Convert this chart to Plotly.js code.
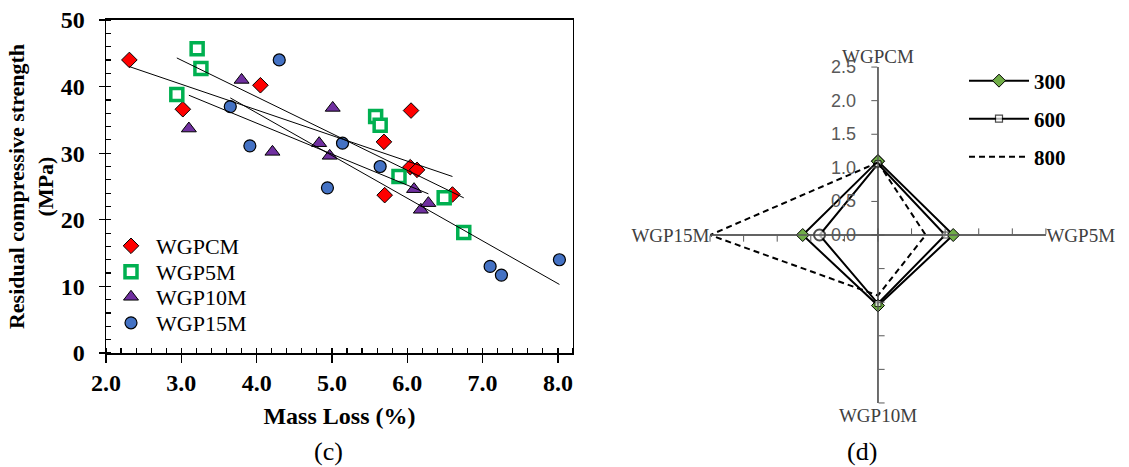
<!DOCTYPE html>
<html><head><meta charset="utf-8">
<script src="https://cdn.plot.ly/plotly-3.0.1.min.js"></script>
<style>html,body{margin:0;padding:0;background:#fff}#chart{width:1129px;height:467px}</style>
</head><body><div id="chart"></div>
<script>
// ---- (c) Residual compressive strength vs mass loss ----
const cmX  = [2.31, 3.02, 4.05, 5.69, 5.70, 6.05, 6.04, 6.13, 6.60];
const cmY  = [44.0, 36.6, 40.2, 31.7, 23.7, 36.4, 27.9, 27.5, 23.8];
const m5X  = [2.94, 3.21, 3.26, 5.58, 5.64, 5.89, 6.49, 6.75];
const m5Y  = [38.8, 45.7, 42.7, 35.5, 34.2, 26.5, 23.3, 18.1];
const m10X = [3.10, 3.80, 4.21, 4.83, 4.97, 5.01, 6.09, 6.18, 6.28];
const m10Y = [33.7, 41.0, 30.2, 31.5, 29.6, 36.8, 24.6, 21.5, 22.5];
const m15X = [3.65, 3.91, 4.30, 4.94, 5.14, 5.64, 7.10, 7.25, 8.02];
const m15Y = [37.0, 31.1, 44.0, 24.8, 31.5, 28.0, 13.0, 11.7, 14.0];
// linear trend lines (end points)
const cmTrendX  = [2.31, 6.60], cmTrendY  = [43.0, 26.5];
const m5TrendX  = [2.94, 6.75], m5TrendY  = [44.3, 23.3];
const m10TrendX = [3.10, 6.28], m10TrendY = [38.7, 23.9];
const m15TrendX = [3.65, 8.02], m15TrendY = [38.3, 10.3];

// ---- (d) radar ----
const radarCats = ['WGPCM', 'WGP5M', 'WGP10M', 'WGP15M'];
const r300 = [1.10, 1.12, 1.05, 1.12];
const r600 = [1.06, 1.00, 1.02, 0.87];
const r800 = [1.08, 0.71, 0.90, 2.50];
const radarNames = ['300', '600', '800'];

const serif = 'Liberation Serif, Times New Roman, serif';
const close = a => a.concat([a[0]]);

const scatterTraces = [
  {x: cmX, y: cmY, name: 'WGPCM', legend: 'legend', mode: 'markers', type: 'scatter',
   marker: {symbol: 'diamond', size: 12, color: '#FF0000', line: {color: '#000', width: 1}}},
  {x: m5X, y: m5Y, name: 'WGP5M', legend: 'legend3', mode: 'markers', type: 'scatter',
   marker: {symbol: 'square', size: 12, color: '#FFFFFF', line: {color: '#00B050', width: 3.5}}},
  {x: m10X, y: m10Y, name: 'WGP10M', legend: 'legend4', mode: 'markers', type: 'scatter',
   marker: {symbol: 'triangle-up', size: 13, color: '#7030A0', line: {color: '#000', width: 1}}},
  {x: m15X, y: m15Y, name: 'WGP15M', legend: 'legend5', mode: 'markers', type: 'scatter',
   marker: {symbol: 'circle', size: 12, color: '#4472C4', line: {color: '#000', width: 1.2}}}
];
const trendTraces = [[cmTrendX, cmTrendY], [m5TrendX, m5TrendY], [m10TrendX, m10TrendY], [m15TrendX, m15TrendY]]
  .map(([x, y]) => ({x, y, mode: 'lines', type: 'scatter', showlegend: false, hoverinfo: 'skip',
    line: {color: '#000', width: 1}}));

const radarTraces = [
  {type: 'scatterpolar', subplot: 'polar', name: radarNames[0], legend: 'legend2',
   r: close(r300), theta: close(radarCats), mode: 'lines+markers',
   line: {color: '#000', width: 2},
   marker: {symbol: 'diamond', size: 10, color: '#70AD47', line: {color: '#000', width: 1}}},
  {type: 'scatterpolar', subplot: 'polar', name: radarNames[1], legend: 'legend6',
   r: close(r600), theta: close(radarCats), mode: 'lines+markers',
   line: {color: '#000', width: 2},
   marker: {symbol: ['square', 'square', 'square', 'circle', 'square'], size: [6, 6, 6, 11, 6],
            color: '#FFFFFF', line: {color: '#000', width: [1, 1, 1, 2, 1]}}},
  {type: 'scatterpolar', subplot: 'polar', name: radarNames[2], legend: 'legend7',
   r: close(r800), theta: close(radarCats), mode: 'lines',
   line: {color: '#000', width: 2, dash: '6px,4px'}}
];
// empty traces to draw tick marks on the other spokes
const spokeTraces = ['polar2', 'polar3', 'polar4'].map(s => ({
  type: 'scatterpolar', subplot: s, r: [], theta: [], showlegend: false, hoverinfo: 'skip'}));

const polarDomain = {x: [0.6289, 0.9264], y: [0.1370, 0.8565]};
const baseRadial = {range: [0, 2.5], dtick: 0.5, showgrid: false, showline: true, linecolor: '#595959',
  linewidth: 1.3, ticks: 'outside', ticklen: 6, tickcolor: '#595959', side: 'counterclockwise'};
function extraPolar(angle) {
  return {domain: polarDomain, bgcolor: 'rgba(0,0,0,0)',
    radialaxis: Object.assign({}, baseRadial, {angle: angle, showticklabels: false}),
    angularaxis: {visible: false}};
}
function oneLegend(xPx, yPx, font) {
  return {x: xPx / 1129, y: 1 - yPx / 467, xanchor: 'left', yanchor: 'middle',
    bgcolor: 'rgba(0,0,0,0)', font: font, itemwidth: 40};
}
const legFont = {family: serif, size: 22, color: '#000'};
const radLegFont = {family: serif, size: 21, color: '#000', weight: 'bold'};
function radLegend(yPx) {
  return Object.assign(oneLegend(964, yPx, radLegFont), {itemwidth: 60});
}

const layout = {
  width: 1129, height: 467,
  margin: {l: 0, r: 0, t: 0, b: 0},
  paper_bgcolor: '#fff', plot_bgcolor: '#fff',
  font: {family: serif, color: '#000'},
  xaxis: {domain: [0.0939, 0.5075], range: [2.0, 8.2], dtick: 1, tick0: 2, tickformat: '.1f',
    showgrid: false, zeroline: false, showline: true, linecolor: '#000', linewidth: 1.5, mirror: true,
    ticks: 'outside', ticklen: 8, tickwidth: 1.3, tickcolor: '#000',
    minor: {dtick: 0.2, ticks: 'inside', ticklen: 5, tickwidth: 1.2, tickcolor: '#000'},
    tickfont: {family: serif, size: 24, color: '#000', weight: 'bold'},
    title: {text: '<b>Mass Loss (%)</b>', font: {family: serif, size: 24}, standoff: 12}},
  yaxis: {domain: [0.2441, 0.9572], range: [0, 50], dtick: 10, showgrid: false, zeroline: false,
    showline: true, linecolor: '#000', linewidth: 1.5, mirror: true,
    ticks: 'outside', ticklen: 6, tickwidth: 1.3, tickcolor: '#000', ticklabelstandoff: 9,
    minor: {dtick: 2, ticks: 'inside', ticklen: 5, tickwidth: 1.2, tickcolor: '#000'},
    tickfont: {family: serif, size: 24, color: '#000', weight: 'bold'},
    title: {text: '<b>Residual compressive strength<br>(MPa)</b>', font: {family: serif, size: 22}, standoff: 1}},
  legend:  oneLegend(106, 246, legFont),
  legend3: oneLegend(106, 272, legFont),
  legend4: oneLegend(106, 297, legFont),
  legend5: oneLegend(106, 323, legFont),
  legend2: radLegend(81),
  legend6: radLegend(119),
  legend7: radLegend(157),
  polar: {domain: polarDomain, bgcolor: 'rgba(0,0,0,0)',
    radialaxis: Object.assign({}, baseRadial, {angle: 90, tickformat: '.1f', tickangle: 90,
      ticksuffix: '\u2002',
      tickfont: {family: 'Liberation Sans, Arial, sans-serif', size: 18, color: '#595959'}}),
    angularaxis: {type: 'category', categoryarray: radarCats, rotation: 90, direction: 'clockwise',
      showline: false, ticks: '', showgrid: true, gridcolor: '#595959', gridwidth: 1.3,
      tickfont: {family: serif, size: 19, color: '#404040'}}},
  polar2: extraPolar(0),
  polar3: extraPolar(180),
  polar4: extraPolar(270),
  annotations: [
    {text: '(c)', x: 0.276, y: 1 - 451/467, xref: 'paper', yref: 'paper', yanchor: 'middle', showarrow: false,
     font: {family: serif, size: 26, color: '#000'}},
    {text: '(d)', x: 0.779, y: 1 - 451/467, xref: 'paper', yref: 'paper', yanchor: 'middle', showarrow: false,
     font: {family: serif, size: 26, color: '#000'}}
  ]
};

Plotly.newPlot('chart', scatterTraces.concat(trendTraces, radarTraces, spokeTraces), layout,
  {displayModeBar: false, staticPlot: true});
</script></body></html>
